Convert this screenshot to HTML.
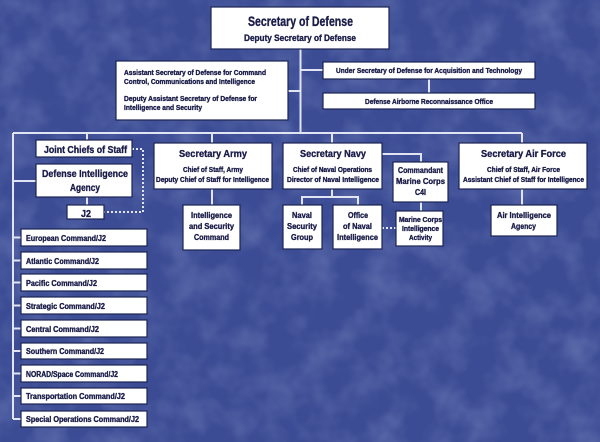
<!DOCTYPE html>
<html><head><meta charset="utf-8"><style>
html,body{margin:0;padding:0;background:#3d4d95;}
svg{display:block;}
text{font-family:"Liberation Sans",sans-serif;font-weight:bold;fill:#1a1c48;stroke:#1a1c48;stroke-width:0.35px;}
</style></head><body>
<svg width="600" height="442" viewBox="0 0 600 442" xmlns="http://www.w3.org/2000/svg">
<defs>
<filter id="n" x="0" y="0" width="100%" height="100%">
<feTurbulence type="fractalNoise" baseFrequency="0.03" numOctaves="3" seed="7"/>
<feColorMatrix values="0 0 0 0 0.5  0 0 0 0 0.58  0 0 0 0 0.82  0.45 0 0 0 -0.17"/>
</filter>
</defs>
<rect width="600" height="442" fill="#3b4b94"/>
<rect width="600" height="442" filter="url(#n)"/>

<!-- connectors -->
<g stroke="#e1e4f2" stroke-width="2" fill="none">
<path d="M300.5 49 V133"/>
<path d="M288 91 H300.5"/>
<path d="M300.5 70 H323"/>
<path d="M429 79 V93"/>
<path d="M13 133 H522"/>
<path d="M13 133 V419"/>
<path d="M87 133 V140"/>
<path d="M13 181 H36"/>
<path d="M87 197 V205"/>
<path d="M212 133 V143"/>
<path d="M212 189 V205"/>
<path d="M332 133 V143"/>
<path d="M522 133 V143"/>
<path d="M522 189 V205"/>
<path d="M332 189 V197 M302 205 V197 H358 V205"/>
<path d="M382 154 H421 V162"/>
<path d="M421 202 V211"/>
<path d="M13 237.5 H21 M13 260.5 H21 M13 282.5 H21 M13 305.5 H21 M13 328.5 H21 M13 351 H21 M13 373.5 H21 M13 396 H21 M13 419 H21"/>
</g>
<g stroke="#e1e4f2" stroke-width="2" fill="none" stroke-dasharray="2 2">
<path d="M132 149 H143 V212 H104"/>
<path d="M382 228 H396"/>
</g>

<!-- boxes -->
<g fill="#ffffff" stroke="#1c2452" stroke-width="1.2">
<rect x="211" y="7" width="178" height="42"/>
<rect x="116" y="61" width="172" height="59"/>
<rect x="323" y="62" width="212" height="17"/>
<rect x="323" y="93" width="212" height="16"/>
<rect x="36" y="140" width="96" height="17"/>
<rect x="36" y="164" width="96" height="33"/>
<rect x="67" y="205" width="37" height="14"/>
<rect x="154" y="143" width="118" height="46"/>
<rect x="183" y="205" width="57" height="45"/>
<rect x="283" y="143" width="99" height="46"/>
<rect x="393" y="162" width="55" height="40"/>
<rect x="283" y="205" width="39" height="44"/>
<rect x="333" y="205" width="49" height="44"/>
<rect x="396" y="211" width="47" height="35"/>
<rect x="459" y="143" width="128" height="46"/>
<rect x="491" y="205" width="66" height="31"/>
<rect x="21" y="229" width="126" height="17"/>
<rect x="21" y="252" width="126" height="17"/>
<rect x="21" y="274" width="126" height="17"/>
<rect x="21" y="297" width="126" height="17"/>
<rect x="21" y="320" width="126" height="17"/>
<rect x="21" y="343" width="126" height="16"/>
<rect x="21" y="365" width="126" height="17"/>
<rect x="21" y="388" width="126" height="16"/>
<rect x="21" y="411" width="126" height="16"/>
</g>

<!-- text -->
<g>
<text x="248" y="26" font-size="14" textLength="105" lengthAdjust="spacingAndGlyphs">Secretary of Defense</text>
<text x="244" y="41" font-size="9.5" textLength="112" lengthAdjust="spacingAndGlyphs">Deputy Secretary of Defense</text>

<text x="124" y="75" font-size="7.5" textLength="142" lengthAdjust="spacingAndGlyphs">Assistant Secretary of Defense for Command</text>
<text x="124" y="84" font-size="7.5" textLength="131" lengthAdjust="spacingAndGlyphs">Control, Communications and Intelligence</text>
<text x="124" y="101" font-size="7.5" textLength="133" lengthAdjust="spacingAndGlyphs">Deputy Assistant Secretary of Defense for</text>
<text x="124" y="110" font-size="7.5" textLength="78" lengthAdjust="spacingAndGlyphs">Intelligence and Security</text>

<text x="336" y="73" font-size="7.5" textLength="186" lengthAdjust="spacingAndGlyphs">Under Secretary of Defense for Acquisition and Technology</text>
<text x="365" y="104" font-size="7.5" textLength="128" lengthAdjust="spacingAndGlyphs">Defense Airborne Reconnaissance Office</text>

<text x="44" y="153" font-size="10.5" textLength="83" lengthAdjust="spacingAndGlyphs">Joint Chiefs of Staff</text>
<text x="42" y="177" font-size="10.5" textLength="86" lengthAdjust="spacingAndGlyphs">Defense Intelligence</text>
<text x="70" y="191" font-size="10.5" textLength="30" lengthAdjust="spacingAndGlyphs">Agency</text>
<text x="81" y="217" font-size="10" textLength="10" lengthAdjust="spacingAndGlyphs">J2</text>

<text x="179" y="157" font-size="10.5" textLength="68" lengthAdjust="spacingAndGlyphs">Secretary Army</text>
<text x="183" y="172" font-size="7" textLength="60" lengthAdjust="spacingAndGlyphs">Chief of Staff, Army</text>
<text x="156" y="182" font-size="7" textLength="113" lengthAdjust="spacingAndGlyphs">Deputy Chief of Staff for Intelligence</text>

<text x="191" y="218" font-size="8.5" textLength="41" lengthAdjust="spacingAndGlyphs">Intelligence</text>
<text x="189" y="229" font-size="8.5" textLength="45" lengthAdjust="spacingAndGlyphs">and Security</text>
<text x="194" y="240" font-size="8.5" textLength="35" lengthAdjust="spacingAndGlyphs">Command</text>

<text x="300" y="157" font-size="10.5" textLength="66" lengthAdjust="spacingAndGlyphs">Secretary Navy</text>
<text x="293" y="172" font-size="7" textLength="79" lengthAdjust="spacingAndGlyphs">Chief of Naval Operations</text>
<text x="287" y="182" font-size="7" textLength="92" lengthAdjust="spacingAndGlyphs">Director of Naval Intelligence</text>

<text x="398" y="173" font-size="8.5" textLength="45" lengthAdjust="spacingAndGlyphs">Commandant</text>
<text x="396" y="184" font-size="8.5" textLength="49" lengthAdjust="spacingAndGlyphs">Marine Corps</text>
<text x="415" y="195" font-size="8.5" textLength="11" lengthAdjust="spacingAndGlyphs">C4I</text>

<text x="399" y="222" font-size="7" textLength="43" lengthAdjust="spacingAndGlyphs">Marine Corps</text>
<text x="402" y="231" font-size="7" textLength="37" lengthAdjust="spacingAndGlyphs">Intelligence</text>
<text x="409" y="240" font-size="7" textLength="23" lengthAdjust="spacingAndGlyphs">Activity</text>

<text x="292" y="218" font-size="8.5" textLength="20" lengthAdjust="spacingAndGlyphs">Naval</text>
<text x="287" y="229" font-size="8.5" textLength="30" lengthAdjust="spacingAndGlyphs">Security</text>
<text x="291" y="240" font-size="8.5" textLength="22" lengthAdjust="spacingAndGlyphs">Group</text>

<text x="348" y="218" font-size="8.5" textLength="20" lengthAdjust="spacingAndGlyphs">Office</text>
<text x="343" y="229" font-size="8.5" textLength="29" lengthAdjust="spacingAndGlyphs">of Naval</text>
<text x="337" y="240" font-size="8.5" textLength="41" lengthAdjust="spacingAndGlyphs">Intelligence</text>

<text x="481" y="157" font-size="10.5" textLength="85" lengthAdjust="spacingAndGlyphs">Secretary Air Force</text>
<text x="487" y="172" font-size="7" textLength="73" lengthAdjust="spacingAndGlyphs">Chief of Staff, Air Force</text>
<text x="463" y="182" font-size="7" textLength="121" lengthAdjust="spacingAndGlyphs">Assistant Chief of Staff for Intelligence</text>

<text x="497" y="218" font-size="8.5" textLength="54" lengthAdjust="spacingAndGlyphs">Air Intelligence</text>
<text x="511" y="229" font-size="8.5" textLength="25" lengthAdjust="spacingAndGlyphs">Agency</text>

<text x="26" y="241" font-size="8" textLength="80" lengthAdjust="spacingAndGlyphs">European Command/J2</text>
<text x="26" y="264" font-size="8" textLength="73" lengthAdjust="spacingAndGlyphs">Atlantic Command/J2</text>
<text x="26" y="286" font-size="8" textLength="71" lengthAdjust="spacingAndGlyphs">Pacific Command/J2</text>
<text x="26" y="309" font-size="8" textLength="79" lengthAdjust="spacingAndGlyphs">Strategic Command/J2</text>
<text x="26" y="332" font-size="8" textLength="73" lengthAdjust="spacingAndGlyphs">Central Command/J2</text>
<text x="26" y="354" font-size="8" textLength="78" lengthAdjust="spacingAndGlyphs">Southern Command/J2</text>
<text x="26" y="377" font-size="8" textLength="92" lengthAdjust="spacingAndGlyphs">NORAD/Space Command/J2</text>
<text x="26" y="399" font-size="8" textLength="99" lengthAdjust="spacingAndGlyphs">Transportation Command/J2</text>
<text x="26" y="422" font-size="8" textLength="113" lengthAdjust="spacingAndGlyphs">Special Operations Command/J2</text>
</g>
</svg>
</body></html>
